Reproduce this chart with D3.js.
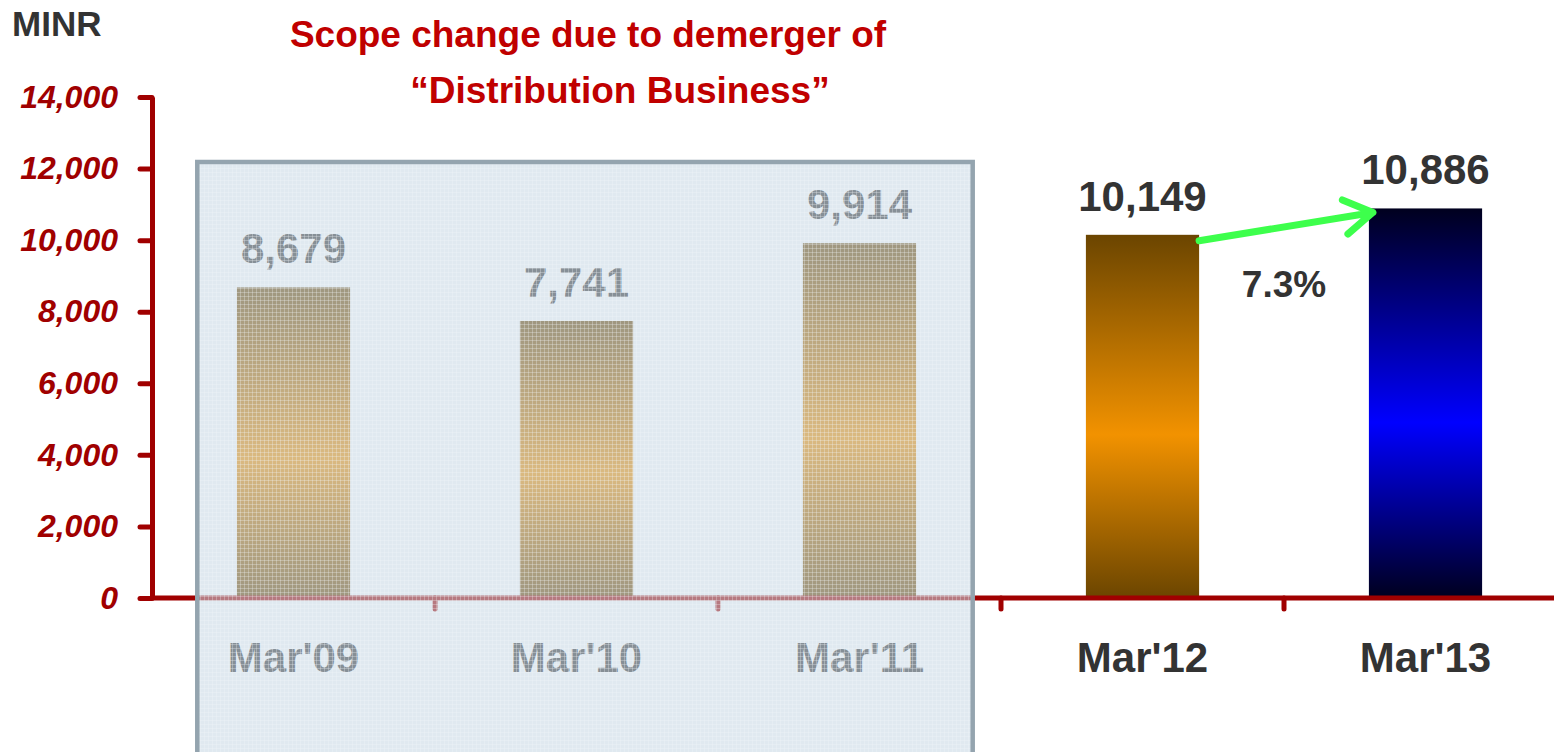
<!DOCTYPE html>
<html>
<head>
<meta charset="utf-8">
<script src="https://cdn.jsdelivr.net/npm/d3@7"></script>
<style>
  html, body { margin: 0; padding: 0; background: #ffffff; overflow: hidden; }
  text { font-family: "Liberation Sans", Arial, sans-serif; font-weight: bold; }
</style>
</head>
<body>
<script>
// chart data
var categories = ["Mar'09", "Mar'10", "Mar'11", "Mar'12", "Mar'13"];
var values = [8679, 7741, 9914, 10149, 10886];
var scopeCategories = ["Mar'09", "Mar'10", "Mar'11"];
var yTickValues = [0, 2000, 4000, 6000, 8000, 10000, 12000, 14000];
var growthText = "7.3%";
var titleLines = ["Scope change due to demerger of", "\u201cDistribution Business\u201d"];
var unitText = "MINR";

var width = 1554,
    height = 752,
    axisRed = "#a00000",
    darkText = "#333333";

var svg = d3.select("body").append("svg")
  .attr("width", width)
  .attr("height", height);

var defs = svg.append("defs");

function addGradient(id, edge, mid) {
  var g = defs.append("linearGradient")
    .attr("id", id)
    .attr("x1", 0).attr("y1", 0).attr("x2", 0).attr("y2", 1);
  g.append("stop").attr("offset", "0%").attr("stop-color", edge);
  g.append("stop").attr("offset", "55%").attr("stop-color", mid);
  g.append("stop").attr("offset", "100%").attr("stop-color", edge);
}
addGradient("gradOrange", "#6b4500", "#f29200");
addGradient("gradBlue", "#00001e", "#0000ff");

// fine grid texture on the scope box
var pat = defs.append("pattern")
  .attr("id", "grid")
  .attr("width", 4).attr("height", 4)
  .attr("patternUnits", "userSpaceOnUse");
pat.append("rect").attr("width", 4).attr("height", 1).attr("fill", "#f4f7fa").attr("fill-opacity", 0.3);
pat.append("rect").attr("width", 1).attr("height", 4).attr("fill", "#f4f7fa").attr("fill-opacity", 0.3);

var x0 = 152;
var x = d3.scaleBand()
  .domain(categories)
  .range([x0, x0 + 1415])
  .paddingInner(0.6)
  .paddingOuter(0.3);

var y = d3.scaleLinear()
  .domain([0, 14000])
  .range([598, 97]);

// bars
svg.selectAll(".bar")
  .data(categories)
  .enter().append("rect")
  .attr("class", "bar")
  .attr("x", function(d) { return x(d); })
  .attr("width", x.bandwidth())
  .attr("y", function(d, i) { return y(values[i]); })
  .attr("height", function(d, i) { return y(0) - y(values[i]); })
  .attr("fill", function(d) { return d === "Mar'13" ? "url(#gradBlue)" : "url(#gradOrange)"; });

// value labels
svg.selectAll(".val")
  .data(categories)
  .enter().append("text")
  .attr("class", "val")
  .attr("x", function(d) { return x(d) + x.bandwidth() / 2; })
  .attr("y", function(d, i) { return y(values[i]) - 24; })
  .attr("text-anchor", "middle")
  .style("font-size", "42px")
  .attr("fill", darkText)
  .text(function(d, i) { return d3.format(",")(values[i]); });

// y axis
var yAxis = d3.axisLeft(y)
  .tickValues(yTickValues)
  .tickFormat(d3.format(","))
  .tickSizeInner(12)
  .tickSizeOuter(0)
  .tickPadding(22);

var yG = svg.append("g")
  .attr("transform", "translate(" + x0 + ",0)")
  .call(yAxis);
yG.select(".domain").attr("stroke", axisRed).attr("stroke-width", 5);
yG.selectAll(".tick line").attr("stroke", axisRed).attr("stroke-width", 5).attr("stroke-linecap", "round");
yG.selectAll(".tick text")
  .attr("fill", axisRed)
  .style("font-size", "32px")
  .style("font-style", "italic")
  .style("font-weight", "bold")
  .style("font-family", "'Liberation Sans', Arial, sans-serif");

// x axis line and boundary ticks
svg.append("line")
  .attr("x1", x0).attr("x2", width)
  .attr("y1", y(0)).attr("y2", y(0))
  .attr("stroke", axisRed).attr("stroke-width", 5);

svg.selectAll(".xtick")
  .data(categories)
  .enter().append("line")
  .attr("class", "xtick")
  .attr("x1", function(d) { return x(d) + x.bandwidth() + (x.step() - x.bandwidth()) / 2; })
  .attr("x2", function(d) { return x(d) + x.bandwidth() + (x.step() - x.bandwidth()) / 2; })
  .attr("y1", y(0)).attr("y2", y(0) + 11)
  .attr("stroke", axisRed).attr("stroke-width", 5).attr("stroke-linecap", "round");

// category labels
svg.selectAll(".cat")
  .data(categories)
  .enter().append("text")
  .attr("class", "cat")
  .attr("x", function(d) { return x(d) + x.bandwidth() / 2; })
  .attr("y", y(0) + 74)
  .attr("text-anchor", "middle")
  .style("font-size", "42px")
  .attr("fill", darkText)
  .text(function(d) { return d; });

// growth arrow Mar'12 -> Mar'13
var ax1 = x("Mar'12") + x.bandwidth(),
    ay1 = y(values[3]) + 6,
    ax2 = x("Mar'13") + 4,
    ay2 = y(values[4]) + 4;
var ang = Math.atan2(ay2 - ay1, ax2 - ax1);
var headLen = 33, headAng = 0.55;
svg.append("path")
  .attr("d", "M" + ax1 + "," + ay1 + "L" + ax2 + "," + ay2 +
    "M" + (ax2 - headLen * Math.cos(ang - headAng)) + "," + (ay2 - headLen * Math.sin(ang - headAng)) +
    "L" + ax2 + "," + ay2 +
    "L" + (ax2 - headLen * Math.cos(ang + headAng)) + "," + (ay2 - headLen * Math.sin(ang + headAng)))
  .attr("fill", "none")
  .attr("stroke", "#3dff4c")
  .attr("stroke-width", 7)
  .attr("stroke-linecap", "round")
  .attr("stroke-linejoin", "round");

svg.append("text")
  .attr("x", x("Mar'13") - (x.step() - x.bandwidth()) / 2)
  .attr("y", 297)
  .attr("text-anchor", "middle")
  .style("font-size", "37px")
  .attr("fill", darkText)
  .text(growthText);

// scope-change box over the first three years
var boxLeft = x0 + x.step() * 0.16,
    boxRight = x(scopeCategories[scopeCategories.length - 1]) + x.bandwidth() + x.step() * 0.2;
svg.append("rect")
  .attr("x", boxLeft)
  .attr("y", 162)
  .attr("width", boxRight - boxLeft)
  .attr("height", 620)
  .attr("fill", "#c8d7e5")
  .attr("fill-opacity", 0.56);
svg.append("rect")
  .attr("x", boxLeft)
  .attr("y", 162)
  .attr("width", boxRight - boxLeft)
  .attr("height", 620)
  .attr("fill", "url(#grid)")
  .attr("stroke", "#94a4af")
  .attr("stroke-width", 4.5);

// unit and title
svg.append("text")
  .attr("x", 12).attr("y", 36)
  .style("font-size", "35px")
  .attr("fill", darkText)
  .text(unitText);

svg.selectAll(".title")
  .data(titleLines)
  .enter().append("text")
  .attr("class", "title")
  .attr("x", function(d, i) { return i === 0 ? 588 : 620; })
  .attr("y", function(d, i) { return 47 + i * 56; })
  .attr("text-anchor", "middle")
  .style("font-size", "37px")
  .attr("fill", "#c00000")
  .text(function(d) { return d; });
</script>
</body>
</html>
